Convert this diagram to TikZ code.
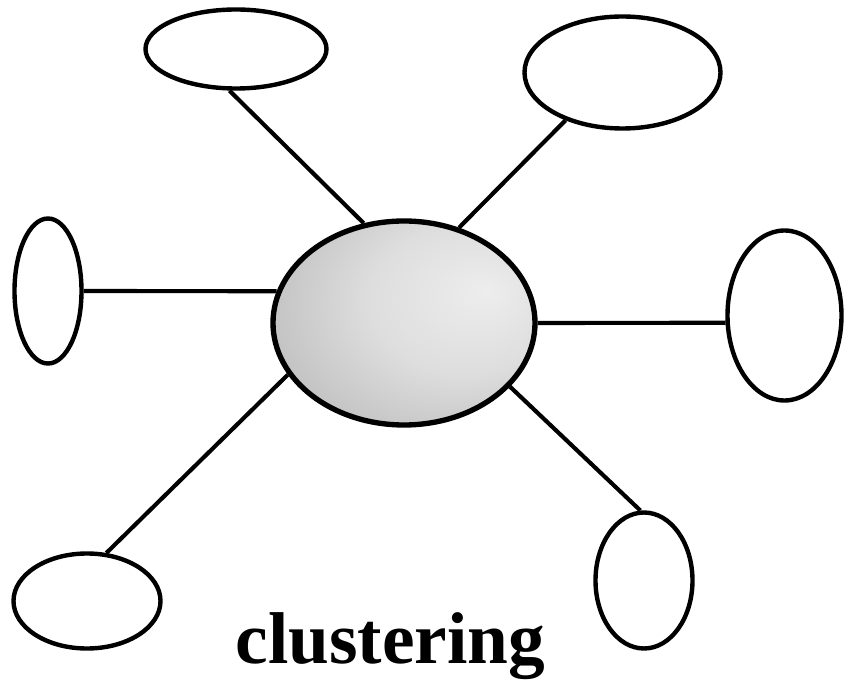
\documentclass[tikz,border=0pt]{standalone}
\usepackage{fontspec}
\setmainfont{Liberation Serif}
\usetikzlibrary{shapes.geometric}

% hub shading, light towards the upper right
\pgfdeclareradialshading{hubshade}{\pgfpoint{16bp}{8bp}}{%
  color(0bp)=(gray!14); color(18bp)=(gray!26); color(36bp)=(gray!50);
  color(52bp)=(gray!82); color(66bp)=(gray!92)}

\tikzset{
  leaf/.style={draw, ellipse, line width=3.3pt, inner sep=0pt, fill=white},
  hub/.style={draw, ellipse, line width=4pt, inner sep=0pt, shading=hubshade},
  spoke/.style={line width=3.1pt},
}

\begin{document}
\begin{tikzpicture}[x=0.75pt,y=0.75pt,yscale=-1,xscale=1]
        \useasboundingbox (0,0) rectangle (846,691);

        %Shape: Ellipse (centre)
        \node[hub, minimum width=196.5pt, minimum height=153pt] (hub) at (404,323) {};

        %Shape: Ellipses (outer ring)
        \node[leaf, minimum width=135.75pt, minimum height=59.25pt] (topleft) at (236,49) {};
        \node[leaf, minimum width=147pt, minimum height=84pt] (topright) at (622.5,72.5) {};
        \node[leaf, minimum width=50.25pt, minimum height=108.75pt] (left) at (48,291) {};
        \node[leaf, minimum width=85.5pt, minimum height=127.5pt] (right) at (784.5,315.5) {};
        \node[leaf, minimum width=110.25pt, minimum height=71.25pt] (botleft) at (87,601) {};
        \node[leaf, minimum width=72.75pt, minimum height=102pt] (botright) at (644,580.5) {};

        %Straight Lines
        \draw[spoke] (hub.112.6) -- (topleft.261);
        \draw[spoke] (hub.60.6) -- (topright.220);
        \draw[spoke] (hub.166) -- (left.0);
        \draw[spoke] (hub.0) -- (right.187);
        \draw[spoke] (hub.204.4) -- (botleft.68);
        \draw[spoke] (hub.329.4) -- (botright.93.4);

        %Text
        \node[anchor=base, inner sep=0pt, font=\fontsize{55}{62}\selectfont\bfseries] (caption) at (390.5,663) {clustering};

\end{tikzpicture}
\end{document}
